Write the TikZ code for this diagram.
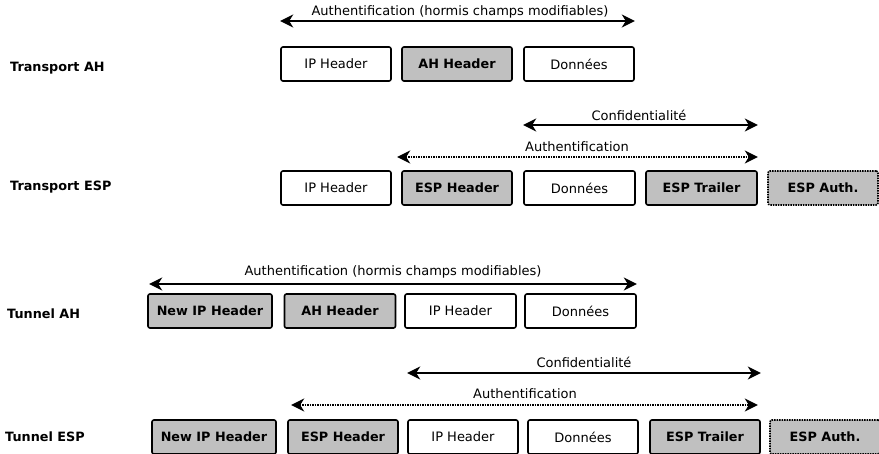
\documentclass[tikz,border=0pt]{standalone}
\usepackage{fontspec}
\setmainfont{DejaVu Sans}
\usetikzlibrary{arrows.meta}
\definecolor{boxgray}{RGB}{192,192,192}
\begin{document}
\begin{tikzpicture}[x=1pt,y=-1pt,
  pkt/.style={draw=black, line width=1.6pt, rounded corners=2pt, minimum height=34pt,
    inner sep=0pt, fill=white, font=\fontsize{13}{15}\selectfont},
  gpkt/.style={pkt, fill=boxgray, font=\fontsize{12.8}{15}\selectfont\bfseries},
  dpkt/.style={gpkt, dash pattern=on 1.5pt off 1pt},
  rowlbl/.style={anchor=west, inner sep=0pt, font=\fontsize{12.8}{15}\selectfont\bfseries},
  arrlbl/.style={inner sep=0pt, font=\fontsize{13}{15}\selectfont},
  tip/.tip={Stealth[length=13pt,width=13pt,inset=4pt]},
  biarrow/.style={line width=1.6pt, tip-tip},
  dotarrow/.style={biarrow, dash pattern=on 1.5pt off 1pt}
]
\useasboundingbox (0,0) rectangle (879,454);
\fill[white] (0,0) rectangle (879,454);
\clip (0,0) rectangle (879,454);

% Row 1: Transport AH
\node[rowlbl] (l1) at (10,68) {Transport AH};
\node[pkt,  minimum width=110pt] (a1) at (336,64) {IP Header};
\node[gpkt, minimum width=110pt] (a2) at (457,64) {AH Header};
\node[pkt,  minimum width=110pt] (a3) at (579,64) {Données};
\node[arrlbl] (a4) at (460,12) {Authentification (hormis champs modifiables)};
\draw[biarrow] (a1.west |- 0,21) -- (a3.east |- 0,21);

% Row 2: Transport ESP
\node[rowlbl] (l2) at (10,187) {Transport ESP};
\node[pkt,  minimum width=110pt] (b1) at (336,188) {IP Header};
\node[gpkt, minimum width=110pt] (b2) at (457,188) {ESP Header};
\node[pkt,  minimum width=111pt] (b3) at (579.5,188) {Données};
\node[gpkt, minimum width=111pt] (b4) at (701.5,188) {ESP Trailer};
\node[dpkt, minimum width=110pt] (b5) at (823,188) {ESP Auth.};
\node[arrlbl] (b6) at (639,115) {Confidentialité};
\draw[biarrow] (b3.west |- 0,125) -- (b4.east |- 0,125);
\node[arrlbl] (b7) at (577,147) {Authentification};
\draw[dotarrow] ([xshift=-4pt]b2.west |- 0,157) -- (b4.east |- 0,157);

% Row 3: Tunnel AH
\node[rowlbl] (l3) at (7,314) {Tunnel AH};
\node[gpkt, minimum width=124pt] (c1) at (210,311) {New IP Header};
\node[gpkt, minimum width=111pt] (c2) at (340,311) {AH Header};
\node[pkt,  minimum width=111pt] (c3) at (460.5,311) {IP Header};
\node[pkt,  minimum width=111pt] (c4) at (580.5,311) {Données};
\node[arrlbl] (c5) at (393,272) {Authentification (hormis champs modifiables)};
\draw[biarrow] ([xshift=2pt]c1.west |- 0,284) -- (c4.east |- 0,284);

% Row 4: Tunnel ESP
\node[rowlbl] (l4) at (5,437) {Tunnel ESP};
\node[gpkt, minimum width=124pt] (d1) at (214,437) {New IP Header};
\node[gpkt, minimum width=110pt] (d2) at (343,437) {ESP Header};
\node[pkt,  minimum width=110pt] (d3) at (463,437) {IP Header};
\node[pkt,  minimum width=110pt] (d4) at (583,437) {Données};
\node[gpkt, minimum width=110pt] (d5) at (705,437) {ESP Trailer};
\node[dpkt, minimum width=110pt] (d6) at (825,437) {ESP Auth.};
\node[arrlbl] (d7) at (584,362) {Confidentialité};
\draw[biarrow] (d3.west |- 0,373) -- (d5.east |- 0,373);
\node[arrlbl] (d8) at (525,394) {Authentification};
\draw[dotarrow] ([xshift=4pt]d2.west |- 0,405) -- ([xshift=-3pt]d5.east |- 0,405);
\end{tikzpicture}
\end{document}
